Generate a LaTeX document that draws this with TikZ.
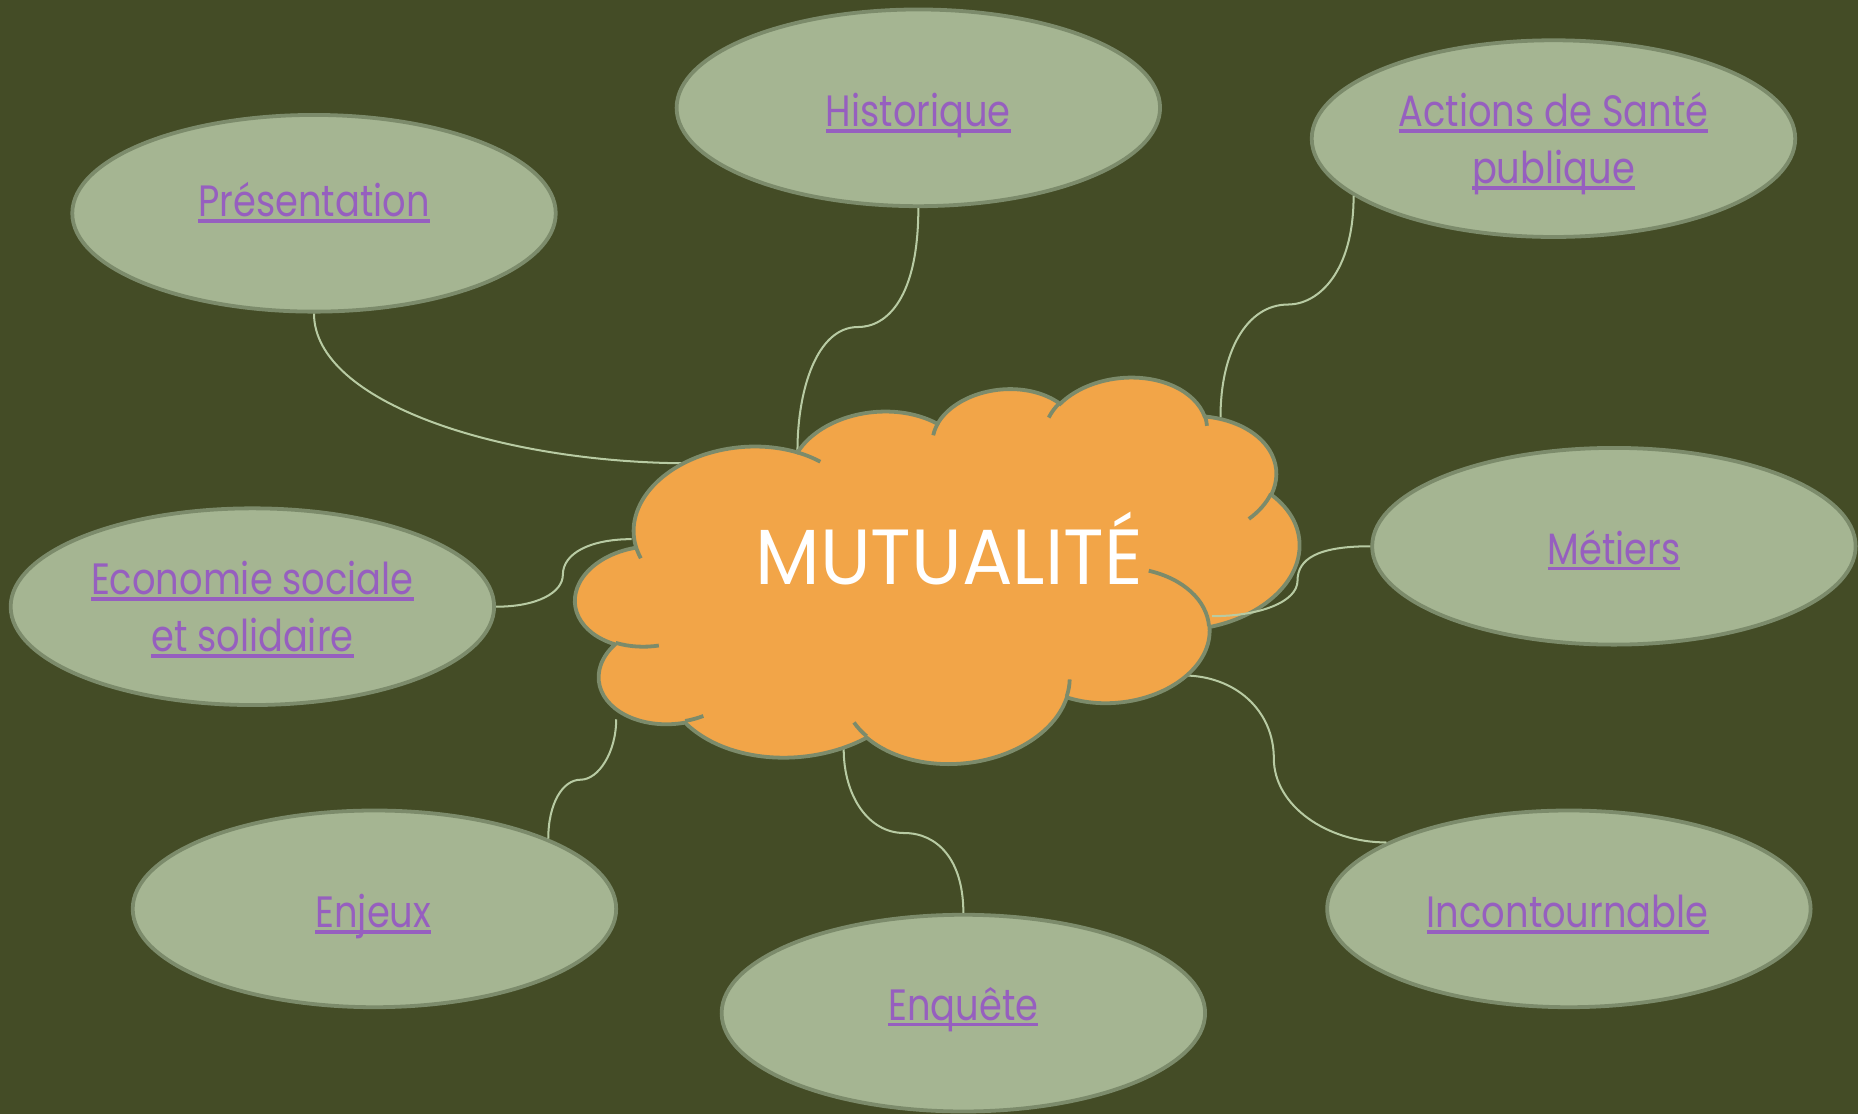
\documentclass[tikz,border=0pt]{standalone}
\usepackage{fontspec}
\setmainfont{Poppins}[FakeStretch=0.84]
\newfontfamily\mutfont{Poppins}[FakeStretch=0.96]
\usetikzlibrary{shapes.geometric}
\definecolor{bgc}{RGB}{68,76,38}
\definecolor{ellfill}{RGB}{165,181,146}
\definecolor{ellline}{RGB}{124,139,107}
\definecolor{cloudfill}{RGB}{242,165,72}
\definecolor{linkc}{RGB}{150,95,191}
\definecolor{conn}{RGB}{184,203,163}
\newcommand\ulx[1]{\setbox0\hbox{#1}\rlap{\rule[-0.135em]{\wd0}{0.075em}}\box0}
\begin{document}
\begin{tikzpicture}[x=0.5pt,y=-0.5pt,
  declare function={pang(\a,\w,\h)=\a+Mod(atan2(\w*sin(\a),\h*cos(\a))-\a+180,360)-180;},
  bubble/.style={ellipse, draw=ellline, line width=1.6pt, fill=ellfill, minimum width=204pt, minimum height=83pt, inner sep=0pt},
  linklabel/.style={anchor=base, text=linkc, inner sep=0pt, font=\fontsize{18.5}{24}\selectfont},
  connector/.style={draw=conn, line width=0.85pt},
  cloudline/.style={draw=ellline, line width=1.6pt},
  oarc/.style n args={4}{insert path={arc[start angle={pang(#1,#3,#4)}, end angle={pang(#2,#3,#4)}, x radius=#3, y radius=#4]}}
]
\fill[bgc] (0,0) rectangle (1568,940);
\useasboundingbox (0,0) rectangle (1568,940);

% bubbles
\node[bubble] (pres) at (265,180) {};
\node[bubble] (hist) at (775,91) {};
\node[bubble] (act) at (1311,117) {};
\node[bubble] (met) at (1362,461) {};
\node[bubble] (inc) at (1324,767) {};
\node[bubble] (enq) at (813,855) {};
\node[bubble] (enj) at (316,767) {};
\node[bubble] (eco) at (213,512) {};

% connector end points on the cloud and bend points
\coordinate (cPres) at (583,391);
\coordinate (cHist) at (673,380);
\coordinate (hmid) at (724,276);
\coordinate (cAct) at (1030,352);
\coordinate (amid) at (1087,257);
\coordinate (cMet) at (1023,520);
\coordinate (mmid) at (1095,490);
\coordinate (cInc) at (998,570);
\coordinate (imid) at (1075,640);
\coordinate (cEnq) at (712,632);
\coordinate (qmid) at (763,703);
\coordinate (cEnj) at (520,607);
\coordinate (jmid) at (490,658);
\coordinate (cEco) at (533,455);
\coordinate (emid) at (475,485);

% connectors (under the cloud)
\draw[connector] (pres.south) .. controls +(0,75) and +(-160,0) .. (cPres);
\draw[connector] (hist.south) .. controls +(0,75) and +(25,0) .. (hmid) .. controls +(-35,0) and +(0,-50) .. (cHist);
\draw[connector] (act.196) .. controls +(0,65) and +(25,0) .. (amid) .. controls +(-35,0) and +(0,-55) .. (cAct);
\draw[connector] (inc.160) .. controls +(-50,0) and +(0,40) .. (imid) .. controls +(0,-40) and +(45,0) .. (cInc);
\draw[connector] (enq.north) .. controls +(0,-45) and +(28,0) .. (qmid) .. controls +(-30,0) and +(0,40) .. (cEnq);
\draw[connector] (enj.22) .. controls +(0,-30) and +(-15,0) .. (jmid) .. controls +(15,0) and +(0,28) .. (cEnj);
\draw[connector] (eco.east) .. controls +(35,0) and +(0,15) .. (emid) .. controls +(0,-18) and +(-35,0) .. (cEco);

% cloud
\begin{scope}[shift={(791.6,489)}, rotate=5.5, xscale=613/4320, yscale=311/4320, shift={(-2160,-2160)}]
\path[fill=cloudfill, cloudline] (390,1437)
  [oarc={-190.48748}{-66.70695}{675.3}{919}]
  [oarc={-144.10238}{-54.15715}{533.3}{726.7}]
  [oarc={-145.80792}{-46.0849}{436.5}{594.5}]
  [oarc={-130.98607}{-13.74434}{485.7}{659.5}]
  [oarc={-78.70888}{30.31804}{533.3}{727.3}]
  [oarc={-46.26725}{84.00175}{677.5}{922}]
  [oarc={0.62502}{114.65835}{578.5}{786.7}]
  [oarc={22.4516}{137.62415}{675.2}{921.5}]
  [oarc={66.24263}{141.95365}{772}{1054.3}]
  [oarc={-274.94208}{-128.20651}{436}{591.8}]
  [oarc={-246.8285}{-94.30965}{434.5}{594.5}]
  -- cycle;
\path[cloudline] (469.3,2617.7) [oarc={86.742}{113.1715}{434.5}{594.5}];
\path[cloudline] (692.8,3489.9) [oarc={73.61047}{85.05794}{436}{591.8}];
\path[cloudline] (1647.8,3909) [oarc={137.62415}{151.70525}{675.2}{921.5}];
\path[cloudline] (2882.7,3475.1) [oarc={6.45327}{22.45162}{675.2}{921.5}];
\path[cloudline] (3412.9,2295.4) [oarc={-70.29235}{0.62502}{578.5}{786.7}];
\path[cloudline] (4179.8,1535.4) [oarc={30.31803}{58.06953}{533.3}{727.3}];
\path[cloudline] (3832.4,542.6) [oarc={-13.74433}{1.11457}{485.7}{659.5}];
\path[cloudline] (2907.8,395.2) [oarc={-149.18145}{-130.98608}{485.7}{659.5}];
\path[cloudline] (2214.1,472) [oarc={-163.49427}{-145.80792}{436.5}{594.5}];
\path[cloudline] (1400,519.2) [oarc={-66.70695}{-54.3876}{675.3}{919}];
\path[cloudline] (412.7,1578.9) [oarc={157.65435}{169.51252}{675.3}{919}];
\end{scope}

% connector drawn over the cloud edge
\draw[connector] (met.west) .. controls +(-45,0) and +(0,-18) .. (mmid) .. controls +(0,18) and +(40,0) .. (cMet);

% texts
\node[anchor=base, text=white, inner sep=0pt, font=\mutfont\fontsize{33}{40}\selectfont] (mut) at (801,493) {MUTUALITÉ};
\node[linklabel] (tpres) at (265,183) {\ulx{Présentation}};
\node[linklabel] (thist) at (775,107) {\ulx{Historique}};
\node[linklabel] (tact1) at (1311,107) {\ulx{Actions de Santé}};
\node[linklabel] (tact2) at (1311,155) {\ulx{publique}};
\node[linklabel] (tmet) at (1362,476) {\ulx{Métiers}};
\node[linklabel] (teco1) at (213,502) {\ulx{Economie sociale}};
\node[linklabel] (teco2) at (213,550) {\ulx{et solidaire}};
\node[linklabel] (tenj) at (315,783) {\ulx{Enjeux}};
\node[linklabel] (tenq) at (813,861) {\ulx{Enquête}};
\node[linklabel] (tinc) at (1323,783) {\ulx{Incontournable}};
\end{tikzpicture}
\end{document}
